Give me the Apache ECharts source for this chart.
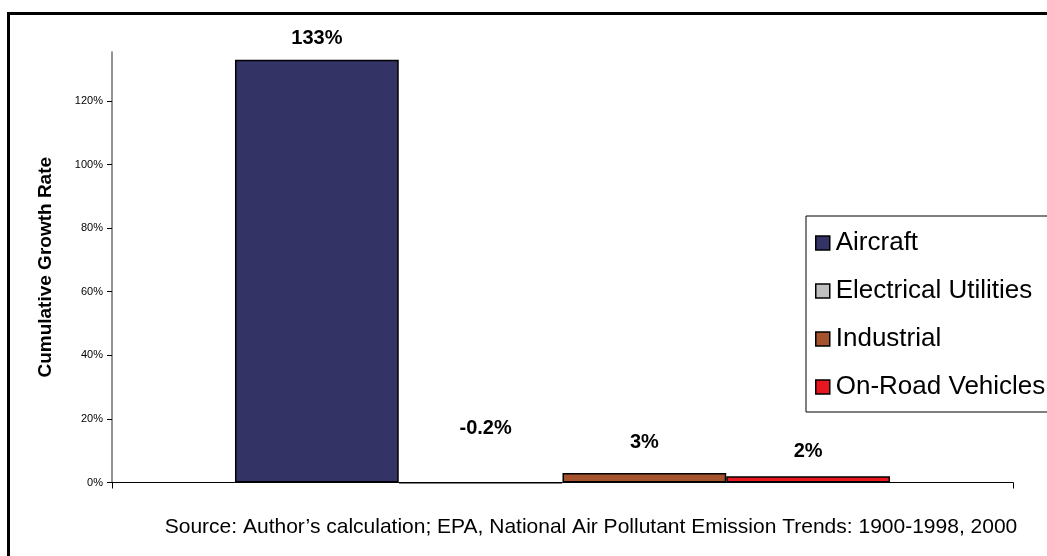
<!DOCTYPE html>
<html>
<head>
<meta charset="utf-8">
<script src="https://cdn.jsdelivr.net/npm/echarts@6/dist/echarts.min.js"></script>
<style>
  html, body { margin: 0; padding: 0; background: #fff; }
  #chart { width: 1047px; height: 556px; }
</style>
</head>
<body>
<div id="chart"></div>
<script>
const categories = [''];
const seriesNames = ['Aircraft', 'Electrical Utilities', 'Industrial', 'On-Road Vehicles'];
const seriesValues = [133, -0.2, 3, 2];
const valueLabels = ['133%', '-0.2%', '3%', '2%'];
const yTickValues = [0, 20, 40, 60, 80, 100, 120];
const yAxisTitle = 'Cumulative Growth Rate';
const sourceNote = 'Source: Author\u2019s calculation; EPA, National Air Pollutant Emission Trends: 1900-1998, 2000';

const colors = ['#333366', '#C0C0C0', '#A5522F', '#E8161E'];
const labelDistances = [11, 44, 20, 15];
const labelShifts = [0, 5, 0, 0];

const chart = echarts.init(document.getElementById('chart'), null, { renderer: 'canvas' });

const series = seriesNames.map((name, i) => ({
  name: name,
  type: 'bar',
  data: [seriesValues[i]],
  barGap: '0%',
  barCategoryGap: '27.3%',
  clip: false,
  itemStyle: { color: colors[i], borderColor: '#000', borderWidth: 1.5 },
  label: {
    show: true,
    position: 'top',
    distance: labelDistances[i],
    offset: [labelShifts[i], 0],
    formatter: () => valueLabels[i],
    fontFamily: 'Liberation Sans, Arial, sans-serif',
    fontWeight: 'bold',
    fontSize: 20,
    color: '#000'
  },
  emphasis: { disabled: true }
}));

chart.setOption({
  animation: false,
  backgroundColor: '#fff',
  color: colors,
  grid: { left: 112, right: 34, top: 52, bottom: 73.5, containLabel: false },
  xAxis: {
    type: 'category',
    data: categories,
    axisLine: { show: true, lineStyle: { color: '#000', width: 1 } },
    axisTick: { show: true, length: 6, lineStyle: { color: '#000' } },
    axisLabel: { show: false },
    splitLine: { show: false }
  },
  yAxis: {
    type: 'value',
    min: 0,
    max: 135.4,
    interval: 20,
    name: yAxisTitle,
    nameLocation: 'middle',
    nameGap: 57,
    nameTextStyle: {
      fontFamily: 'Liberation Sans, Arial, sans-serif',
      fontWeight: 'bold',
      fontSize: 19,
      color: '#000'
    },
    axisLine: { show: true, lineStyle: { color: '#707070', width: 1.5 } },
    axisTick: { show: true, length: 5, customValues: yTickValues, lineStyle: { color: '#000' } },
    axisLabel: {
      customValues: yTickValues,
      formatter: '{value}%',
      fontFamily: 'Liberation Sans, Arial, sans-serif',
      fontSize: 11,
      color: '#000',
      margin: 9
    },
    splitLine: { show: false }
  },
  legend: {
    show: true,
    orient: 'vertical',
    left: 806,
    top: 216,
    padding: [14, 60, 12, 9],
    itemGap: 22,
    itemWidth: 14,
    itemHeight: 14,
    borderColor: '#000',
    borderWidth: 1,
    backgroundColor: '#fff',
    icon: 'rect',
    itemStyle: { borderColor: '#000', borderWidth: 1.5 },
    textStyle: {
      fontFamily: 'Liberation Sans, Arial, sans-serif',
      fontSize: 26,
      lineHeight: 26,
      color: '#000',
      padding: [0, 0, 0, 1]
    },
    selectedMode: false,
    data: seriesNames
  },
  graphic: [
    {
      type: 'rect',
      shape: { x: 8.5, y: 13.5, width: 2000, height: 2000 },
      style: { fill: 'none', stroke: '#000', lineWidth: 3 },
      silent: true,
      z: 100
    },
    {
      type: 'text',
      style: {
        x: 591,
        y: 527,
        text: sourceNote,
        textAlign: 'center',
        textVerticalAlign: 'middle',
        fontFamily: 'Liberation Sans, Arial, sans-serif',
        fontSize: 21,
        fill: '#000'
      },
      silent: true
    }
  ],
  series: series
});
</script>
</body>
</html>
